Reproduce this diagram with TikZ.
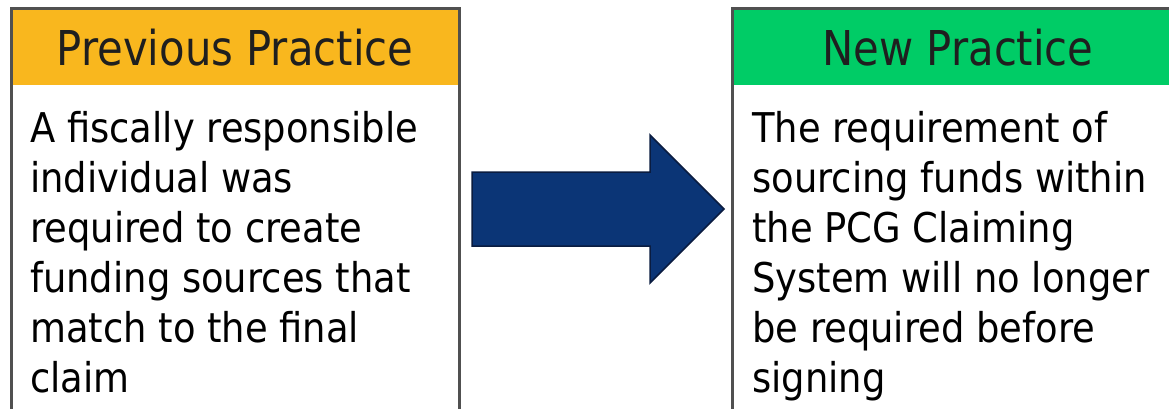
\documentclass[tikz,border=0pt]{standalone}
\usepackage{fontspec}
\setmainfont{DejaVu Sans}[FakeStretch=0.9]
\newfontfamily\headfont{DejaVu Sans}[FakeStretch=0.87]
\definecolor{prevfill}{HTML}{F9B71E}
\definecolor{newfill}{HTML}{00CC66}
\definecolor{frame}{HTML}{505050}
\definecolor{arrowfill}{HTML}{0B3576}
\definecolor{arrowline}{HTML}{0A1C40}
\definecolor{headtext}{HTML}{1F1F1F}
\begin{document}
\begin{tikzpicture}[x=1pt,y=-1pt,
  panel/.style={draw=frame,line width=3pt},
  header/.style={headtext,font=\headfont\fontsize{48}{50}\selectfont,anchor=base},
  bodytext/.style={align=left,anchor=base west,inner sep=0pt,
    font=\fontsize{41}{50}\selectfont}]
\useasboundingbox (0,0) rectangle (1169,408);
\fill[white] (0,0) rectangle (1169,408);
% left panel: previous practice
\fill[prevfill] (11,8) rectangle (459,85);
\draw[panel] (11,8) rectangle (459,430);
\node[header] (prevhead) at (235,65) {Previous Practice};
% the base anchor of a multi-line node sits on its last line
\node[bodytext] (prevbody) at (30,392) {A fiscally responsible\\individual was\\required to create\\funding sources that\\match to the final\\claim};
% right panel: new practice
\fill[newfill] (732,8) rectangle (1190,85);
\draw[panel] (732,8) rectangle (1190,430);
\node[header] (newhead) at (958,65) {New Practice};
\node[bodytext] (newbody) at (752,392) {The requirement of\\sourcing funds within\\the PCG Claiming\\System will no longer\\be required before\\signing};
% block arrow between the panels
\draw[fill=arrowfill,draw=arrowline,line width=1.5pt,line join=miter]
  (472,172) -- (650,172) -- (650,135) -- (724,209) -- (650,283) -- (650,246) -- (472,246) -- cycle;
\end{tikzpicture}
\end{document}
